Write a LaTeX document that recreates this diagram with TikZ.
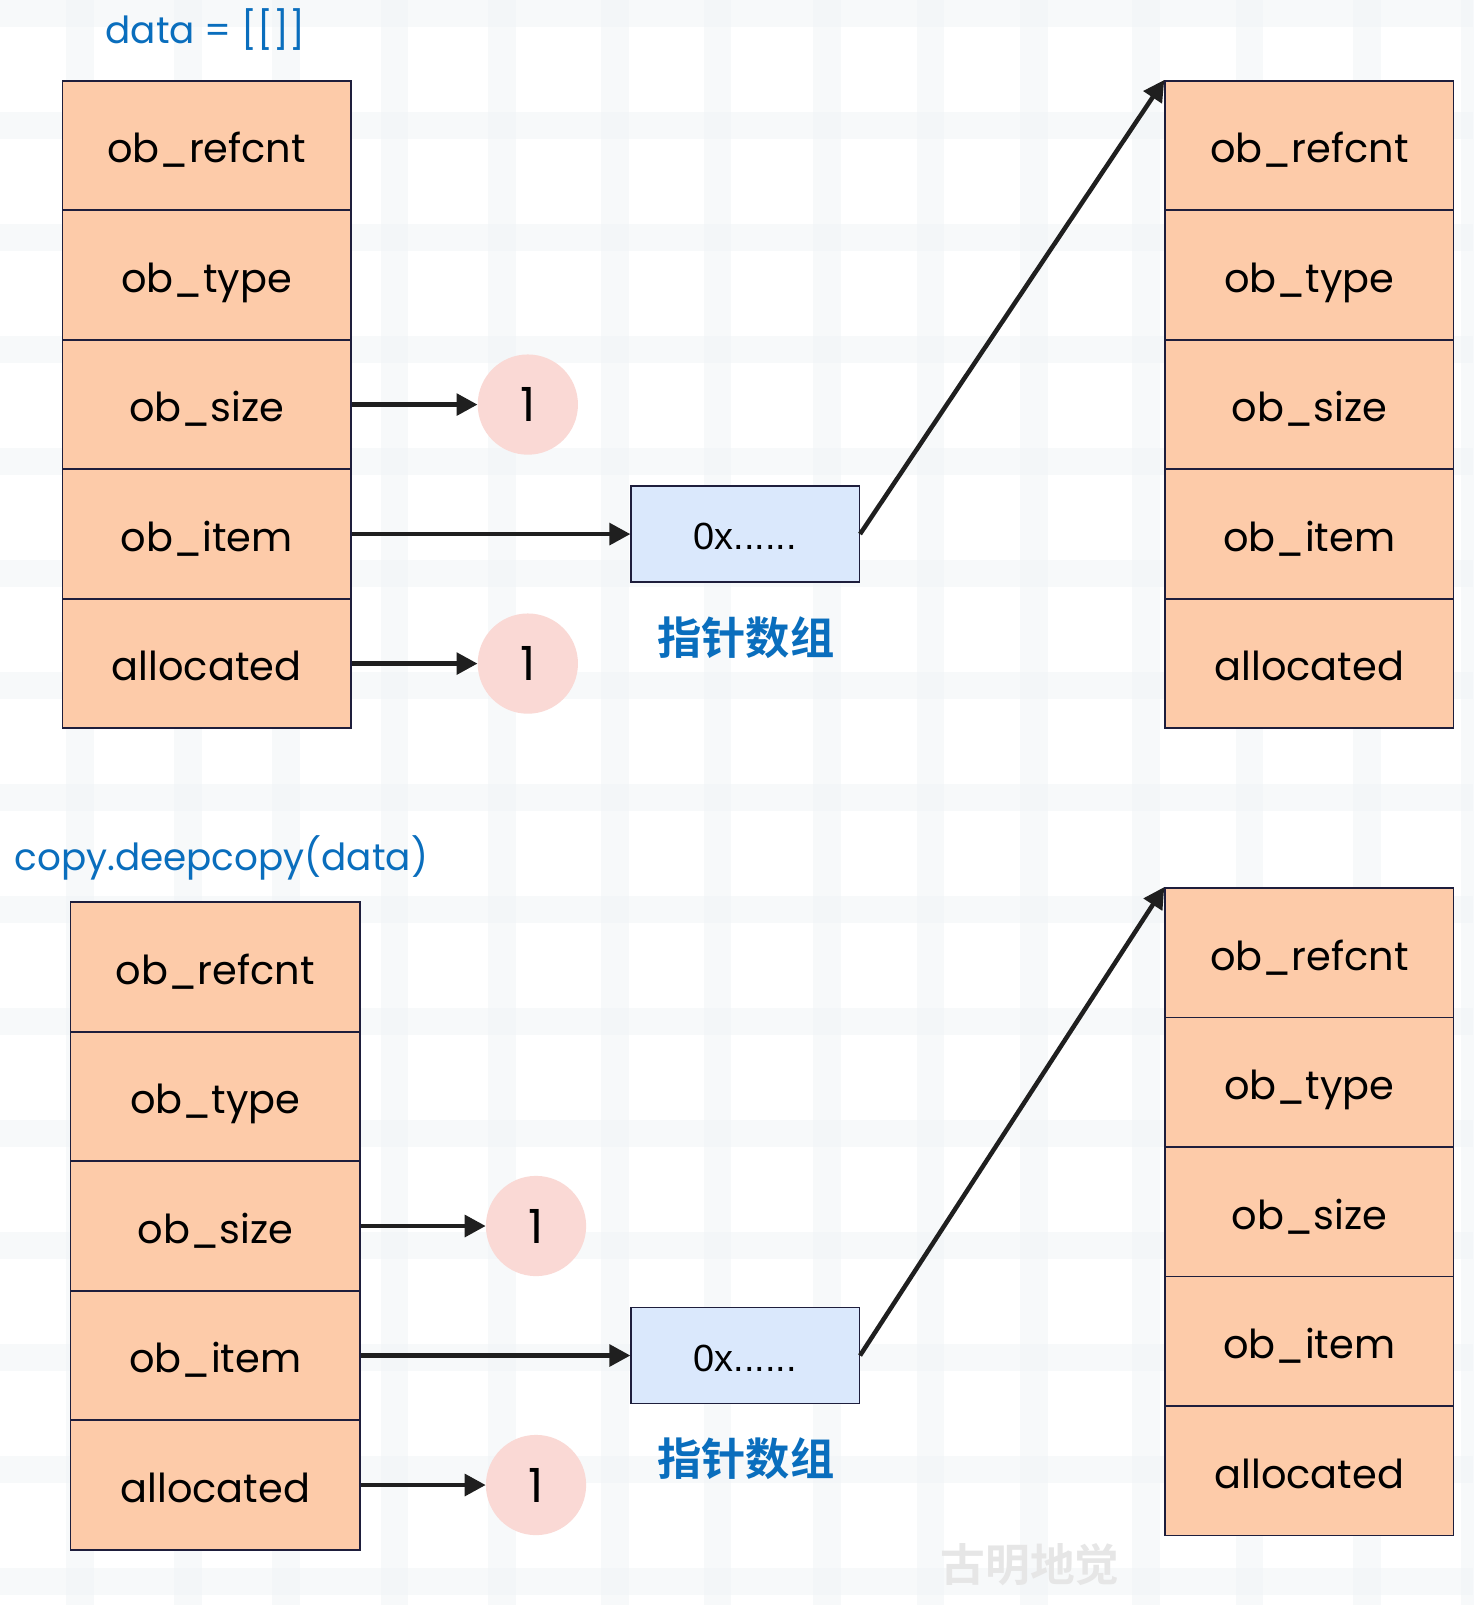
\documentclass[tikz,border=0pt]{standalone}
\usepackage{fontspec}
\setmainfont{Poppins}
\newfontfamily\cjkb{Noto Sans CJK SC Bold}
\newfontfamily\plainsans{Liberation Sans}
\usetikzlibrary{arrows.meta}
\definecolor{peach}{HTML}{FDCBA9}
\definecolor{pinkc}{HTML}{FAD9D5}
\definecolor{lblue}{HTML}{DAE8FC}
\definecolor{edgec}{HTML}{1E1E3C}
\definecolor{tblue}{HTML}{0A6EBD}
\definecolor{wmark}{HTML}{E6E6E6}
\definecolor{gridc}{HTML}{F0F4F7}
\newcommand\cellfont{\fontsize{39}{45}\selectfont}
\newcommand\lblfont{\fontsize{36.5}{42}\selectfont}
\begin{document}
\begin{tikzpicture}[x=1pt,y=-1pt,
  cell/.style={draw=edgec, fill=peach, line width=1.7pt, minimum width=282pt, minimum height=126.6pt, inner sep=0pt, font=\cellfont, text height=40pt, text depth=6pt},
  numc/.style={circle, fill=pinkc, minimum size=98pt, inner sep=0pt, font=\fontsize{46}{50}\selectfont, text height=40pt, text depth=6pt},
  ptrbox/.style={draw=edgec, fill=lblue, line width=1.5pt, minimum width=223pt, minimum height=94pt, inner sep=0pt, font=\plainsans\fontsize{37}{42}\selectfont, text height=38pt, text depth=7pt},
  arr/.style={line width=4.4pt, draw=black!88, -{Triangle[length=20.5pt,width=21pt]}},
  lbl/.style={text=tblue, font=\lblfont, anchor=base west, inner sep=0pt},
  cjklbl/.style={text=tblue, font=\cjkb\fontsize{43.3}{48}\selectfont, inner sep=0pt},
  wmk/.style={text=wmark, font=\cjkb\fontsize{43.7}{48}\selectfont, inner sep=0pt},
  stripe/.style={fill=gridc, fill opacity=0.5}]
\useasboundingbox (0,0) rectangle (1440,1569);
\fill[white] (0,0) rectangle (1440,1569);
% faint background grid
\foreach \gx in {64.5,170,266,372,477,588,688,795,896,997,1107,1208,1323,1428}
  {\fill[stripe] (\gx,0) rectangle ++(27,1569);}
\foreach \gy in {0,109.5,...,1569}
  {\fill[stripe] (0,\gy) rectangle ++(1440,26);}
% top
\node[lbl] (t1) at (103,43) {data = [[]]};
\node[cell] (a1) at (202,142.3) {ob\_refcnt};
\node[cell] (a2) at (202,268.9) {ob\_type};
\node[cell] (a3) at (202,395.5) {ob\_size};
\node[cell] (a4) at (202,522.1) {ob\_item};
\node[cell] (a5) at (202,648.7) {allocated};
\node[numc] (c1) at (516,395.5) {1};
\node[numc] (c2) at (516,648.7) {1};
\node[ptrbox] (p1) at (728.5,522.1) {0x......};
\node[cjklbl] (k1) at (729,623) {指针数组};
\node[cell] (b1) at (1280,142.3) {ob\_refcnt};
\node[cell] (b2) at (1280,268.9) {ob\_type};
\node[cell] (b3) at (1280,395.5) {ob\_size};
\node[cell] (b4) at (1280,522.1) {ob\_item};
\node[cell] (b5) at (1280,648.7) {allocated};
\draw[arr] (a3.east) -- (c1.west);
\draw[arr] (a4.east) -- (p1.west);
\draw[arr] (a5.east) -- (c2.west);
\draw[arr] (p1.east) -- (b1.north west);
% bottom
\node[lbl] (t2) at (14,851) {copy.deepcopy(data)};
\node[cell, minimum width=283pt] (d1) at (210.5,945.3) {ob\_refcnt};
\node[cell, minimum width=283pt] (d2) at (210.5,1071.9) {ob\_type};
\node[cell, minimum width=283pt] (d3) at (210.5,1198.5) {ob\_size};
\node[cell, minimum width=283pt] (d4) at (210.5,1325.1) {ob\_item};
\node[cell, minimum width=283pt] (d5) at (210.5,1451.7) {allocated};
\node[numc] (c3) at (524,1198.5) {1};
\node[numc] (c4) at (524,1451.7) {1};
\node[ptrbox] (p2) at (728.5,1325.1) {0x......};
\node[cjklbl] (k2) at (729,1426) {指针数组};
\node[cell] (e1) at (1280,931.3) {ob\_refcnt};
\node[cell] (e2) at (1280,1057.9) {ob\_type};
\node[cell] (e3) at (1280,1184.5) {ob\_size};
\node[cell] (e4) at (1280,1311.1) {ob\_item};
\node[cell] (e5) at (1280,1437.7) {allocated};
\draw[arr] (d3.east) -- (c3.west);
\draw[arr] (d4.east) -- (p2.west);
\draw[arr] (d5.east) -- (c4.west);
\draw[arr] (p2.east) -- (e1.north west);
\node[wmk] (w) at (1007,1530) {古明地觉};
\end{tikzpicture}
\end{document}
